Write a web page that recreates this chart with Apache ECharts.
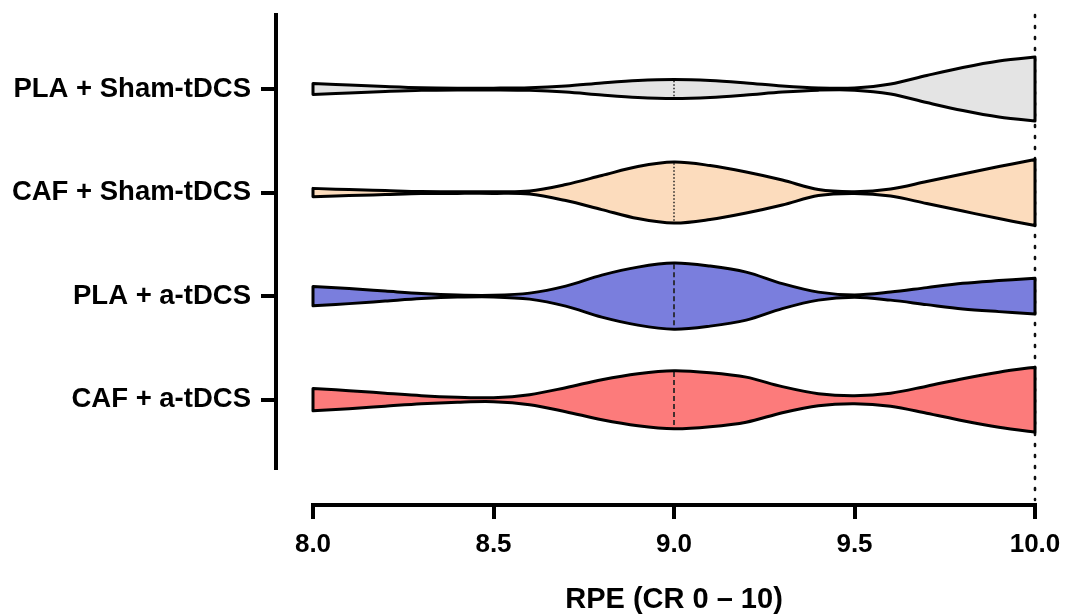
<!DOCTYPE html>
<html>
<head>
<meta charset="utf-8">
<script src="https://cdn.jsdelivr.net/npm/echarts@6/dist/echarts.min.js"></script>
<style>
  html, body { margin: 0; padding: 0; background: #ffffff; }
  #chart { width: 1065px; height: 614px; }
</style>
</head>
<body>
<div id="chart"></div>
<script>
// Groups, top to bottom
const groups = ['PLA + Sham-tDCS', 'CAF + Sham-tDCS', 'PLA + a-tDCS', 'CAF + a-tDCS'];

// RPE values at which the kernel density of each group is given
const rpeGrid = [8.0, 8.1, 8.2, 8.3, 8.4, 8.5, 8.6, 8.7, 8.8, 8.9, 9.0,
                 9.1, 9.2, 9.3, 9.4, 9.5, 9.6, 9.7, 9.8, 9.9, 10.0];

// Relative density (violin half-width) per group along rpeGrid
const densPlaSham = [5.5, 4.0, 2.5, 1.3, 0.9, 0.9, 1.3, 3.0, 6.0, 8.5, 9.5,
                     8.5, 6.0, 3.0, 1.1, 1.1, 5.0, 13.5, 21.5, 28.0, 32.0];
const densCafSham = [4.2, 3.0, 2.0, 1.0, 0.8, 0.8, 1.5, 8.0, 17.0, 26.0, 30.5,
                     27.0, 20.5, 12.5, 3.0, 0.9, 3.5, 11.0, 18.5, 26.0, 33.0];
const densPlaA    = [9.7, 7.5, 5.0, 2.5, 1.0, 0.8, 3.0, 10.0, 21.0, 29.0, 33.0,
                     30.0, 24.0, 12.5, 4.0, 1.2, 4.0, 8.5, 12.8, 15.5, 17.8];
const densCafA    = [11.2, 9.0, 6.5, 4.0, 2.5, 2.0, 5.0, 12.0, 20.0, 26.0, 29.0,
                     27.0, 22.5, 13.0, 6.0, 4.0, 6.5, 13.5, 21.0, 27.5, 32.5];

// Summary statistics per group
const medians        = [10.0, 10.0, 9.0, 9.0];
const lowerQuartiles = [9.0, 9.0, 9.0, 9.0];
const upperQuartiles = [10.0, 10.0, 10.0, 10.0];

// Reference value marked across the whole plot
const referenceRpe = [10.0];

// X axis ticks
const xTicks = [8.0, 8.5, 9.0, 9.5, 10.0];

const densities = [densPlaSham, densCafSham, densPlaA, densCafA];
const fills = ['#e4e4e4', '#fcdcbd', '#7a7edd', '#fc7b7b'];
const WIDTH_SCALE = 1 / 103.5;   // density units -> category spacing
const Y_MIN = 0.285, Y_MAX = 4.66;
const FONT = '"Liberation Sans", Arial, Helvetica, sans-serif';

function densityAt(dens, v) {
  for (let i = 0; i < rpeGrid.length - 1; i++) {
    if (v >= rpeGrid[i] && v <= rpeGrid[i + 1]) {
      const t = (v - rpeGrid[i]) / (rpeGrid[i + 1] - rpeGrid[i]);
      return dens[i] + (dens[i + 1] - dens[i]) * t;
    }
  }
  return v < rpeGrid[0] ? dens[0] : dens[dens.length - 1];
}

// Smooth cubic segments through a list of pixel points
function curve(pts) {
  let d = '';
  const t = 6;
  for (let i = 0; i < pts.length - 1; i++) {
    const p0 = pts[i - 1] || pts[i], p1 = pts[i], p2 = pts[i + 1], p3 = pts[i + 2] || pts[i + 1];
    const c1x = p1[0] + (p2[0] - p0[0]) / t, c1y = p1[1] + (p2[1] - p0[1]) / t;
    const c2x = p2[0] - (p3[0] - p1[0]) / t, c2y = p2[1] - (p3[1] - p1[1]) / t;
    d += ' C' + c1x + ',' + c1y + ' ' + c2x + ',' + c2y + ' ' + p2[0] + ',' + p2[1];
  }
  return d;
}

function violinPath(api, k) {
  const c = k + 1, dens = densities[k];
  const top = rpeGrid.map((x, i) => api.coord([x, c - dens[i] * WIDTH_SCALE]));
  const bot = rpeGrid.map((x, i) => api.coord([x, c + dens[i] * WIDTH_SCALE])).reverse();
  return 'M' + top[0][0] + ',' + top[0][1] + curve(top) +
         ' L' + bot[0][0] + ',' + bot[0][1] + curve(bot) + ' Z';
}

function statLine(api, k, v, dash, width) {
  const h = Math.max(densityAt(densities[k], v) * WIDTH_SCALE - 0.012, 0);
  const a = api.coord([v, k + 1 - h]);
  const b = api.coord([v, k + 1 + h]);
  return {
    type: 'line',
    shape: { x1: a[0], y1: a[1], x2: b[0], y2: b[1] },
    style: { stroke: '#222', lineWidth: width, lineDash: dash }
  };
}

function renderViolin(params, api) {
  const k = params.dataIndex;
  const d = violinPath(api, k);
  const children = [
    { type: 'path', shape: { pathData: d }, style: { fill: fills[k], stroke: null } }
  ];
  const dotted = [1.5, 2];
  if (lowerQuartiles[k] !== medians[k]) children.push(statLine(api, k, lowerQuartiles[k], dotted, 1.5));
  if (upperQuartiles[k] !== medians[k]) children.push(statLine(api, k, upperQuartiles[k], dotted, 1.5));
  children.push(statLine(api, k, medians[k], [5, 3], 1.7));
  children.push({
    type: 'path', shape: { pathData: d },
    style: { fill: null, stroke: '#000', lineWidth: 3, lineJoin: 'round' }
  });
  return { type: 'group', children: children };
}

function renderReference(params, api) {
  const v = api.value(0);
  const top = api.coord([v, Y_MIN]);
  const bottom = params.coordSys.y + params.coordSys.height + 32;
  return {
    type: 'line',
    shape: { x1: top[0], y1: top[1], x2: top[0], y2: bottom },
    style: { stroke: '#111', lineWidth: 2.6, lineDash: [2, 9], lineCap: 'round' }
  };
}

const chart = echarts.init(document.getElementById('chart'), null, { renderer: 'canvas' });

chart.setOption({
  animation: false,
  backgroundColor: '#ffffff',
  grid: { left: 313, right: 30, top: 15, bottom: 146, containLabel: false, outerBoundsMode: 'none' },
  xAxis: {
    type: 'value',
    min: xTicks[0],
    max: xTicks[xTicks.length - 1],
    interval: xTicks[1] - xTicks[0],
    offset: 37,
    splitLine: { show: false },
    axisLine: { show: true, lineStyle: { color: '#000', width: 4, cap: 'square' } },
    axisTick: { show: true, length: 14, lineStyle: { color: '#000', width: 4 } },
    axisLabel: {
      margin: 27, color: '#000', fontFamily: FONT, fontWeight: 'bold', fontSize: 26,
      formatter: v => v.toFixed(1)
    },
    name: 'RPE (CR 0 \u2013 10)',
    nameLocation: 'middle',
    nameGap: 80,
    nameTextStyle: { color: '#000', fontFamily: FONT, fontWeight: 'bold', fontSize: 29 }
  },
  yAxis: {
    type: 'value',
    inverse: true,
    min: Y_MIN,
    max: Y_MAX,
    offset: 37,
    splitLine: { show: false },
    axisLine: { show: true, lineStyle: { color: '#000', width: 4, cap: 'square' } },
    axisTick: {
      show: true, length: 15, customValues: groups.map((g, i) => i + 1),
      lineStyle: { color: '#000', width: 4 }
    },
    axisLabel: {
      margin: 25, color: '#000', fontFamily: FONT, fontWeight: 'bold', fontSize: 27.5,
      customValues: groups.map((g, i) => i + 1),
      formatter: v => groups[Math.round(v) - 1] || ''
    }
  },
  series: [
    {
      type: 'custom',
      name: 'reference',
      clip: false,
      z: 1,
      data: referenceRpe.map(v => [v]),
      encode: { x: 0 },
      renderItem: renderReference
    },
    {
      type: 'custom',
      name: 'violins',
      clip: false,
      z: 2,
      data: groups.map((g, i) => [medians[i], i + 1]),
      encode: { x: 0, y: 1 },
      renderItem: renderViolin
    }
  ]
});
</script>
</body>
</html>
